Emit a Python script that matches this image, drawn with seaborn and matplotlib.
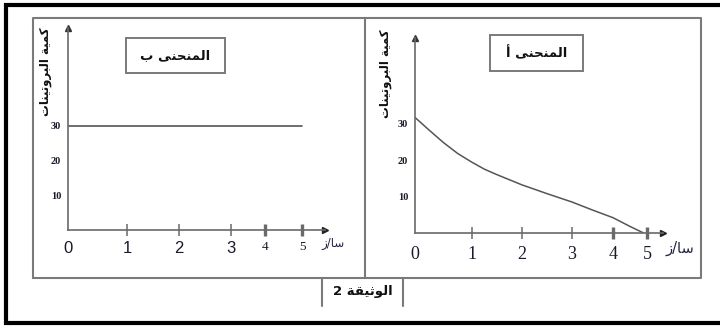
import numpy as np
import pandas as pd
import seaborn as sns
import matplotlib
matplotlib.use('Agg')
import matplotlib.pyplot as plt
from matplotlib.lines import Line2D
from matplotlib.patches import Rectangle


# =====================
# data
# =====================
time_b = [0, 5]                      # curve B: constant protein amount
protein_b = [30, 30]

# curve A: decreasing protein amount
time_a = [0, 0.25, 0.5, 0.75, 1, 1.25, 1.5, 2, 2.5, 3, 3.5, 4, 4.5, 4.9]
protein_a = [31.7, 28.2, 24.8, 21.8, 19.4, 17.5, 16.0, 13.2, 10.8, 8.5, 6.3, 4.2, 1.8, 0.0]

x_ticks = [0, 1, 2, 3, 4, 5]
y_ticks = [10, 20, 30]

title_b = 'المنحنى ب'
title_a = 'المنحنى أ'
y_label = 'كمية البروتينات'
x_label = 'سا/ز'
caption = 'الوثيقة 2'


# =====================
# arabic shaping (matplotlib has no bidi / joining)
# =====================
FORMS = {
    'ا': ('\uFE8D', '\uFE8E', None, None),
    'أ': ('\uFE83', '\uFE84', None, None),
    'ب': ('\uFE8F', '\uFE90', '\uFE91', '\uFE92'),
    'ة': ('\uFE93', '\uFE94', None, None),
    'ت': ('\uFE95', '\uFE96', '\uFE97', '\uFE98'),
    'ث': ('\uFE99', '\uFE9A', '\uFE9B', '\uFE9C'),
    'ح': ('\uFEA1', '\uFEA2', '\uFEA3', '\uFEA4'),
    'ر': ('\uFEAD', '\uFEAE', None, None),
    'ز': ('\uFEAF', '\uFEB0', None, None),
    'س': ('\uFEB1', '\uFEB2', '\uFEB3', '\uFEB4'),
    'ق': ('\uFED5', '\uFED6', '\uFED7', '\uFED8'),
    'ك': ('\uFED9', '\uFEDA', '\uFEDB', '\uFEDC'),
    'ل': ('\uFEDD', '\uFEDE', '\uFEDF', '\uFEE0'),
    'م': ('\uFEE1', '\uFEE2', '\uFEE3', '\uFEE4'),
    'ن': ('\uFEE5', '\uFEE6', '\uFEE7', '\uFEE8'),
    'و': ('\uFEED', '\uFEEE', None, None),
    'ى': ('\uFEEF', '\uFEF0', None, None),
    'ي': ('\uFEF1', '\uFEF2', '\uFEF3', '\uFEF4'),
}


def rtl(text):
    out = []
    for i, c in enumerate(text):
        if c not in FORMS:
            out.append(c)
            continue
        prev_joins = i > 0 and text[i - 1] in FORMS and FORMS[text[i - 1]][2] is not None
        next_joins = (i < len(text) - 1 and text[i + 1] in FORMS
                      and FORMS[c][2] is not None)
        if prev_joins and next_joins:
            out.append(FORMS[c][3])
        elif next_joins:
            out.append(FORMS[c][2])
        elif prev_joins:
            out.append(FORMS[c][1])
        else:
            out.append(FORMS[c][0])
    return ''.join(out[::-1])


# =====================
# layout helpers (pixels of a 720x326 canvas)
# =====================
W, H = 720, 326


def fx(x):
    return x / W


def fy(y):
    return 1 - y / H


def px_axes(fig, left, bottom, right, top):
    return fig.add_axes([fx(left), fy(bottom), fx(right) - fx(left), fy(top) - fy(bottom)])


def hand_scale(t_marks, p_marks):
    # the hand drawn time axis is not evenly spaced
    def fwd(t):
        return np.interp(t, t_marks, p_marks)

    def inv(p):
        return np.interp(p, p_marks, t_marks)
    return fwd, inv


sns.set_style('white')
plt.rcParams['font.family'] = ['DejaVu Sans']

fig = plt.figure(figsize=(7.2, 3.26), dpi=100)
axis_col = '#6a6a6a'
frame_col = '#7a7a7a'
arabic = dict(family='DejaVu Sans', fontweight='bold', color='#111111')


def style_axes(ax, xmax, ymax, label_font, label_size, pad):
    ax.set_xlim(0, xmax)
    ax.set_ylim(0, ymax)
    for side in ['top', 'right']:
        ax.spines[side].set_visible(False)
    for side in ['left', 'bottom']:
        ax.spines[side].set_color(axis_col)
        ax.spines[side].set_linewidth(1.2)
    ax.patch.set_alpha(0)
    ax.set_xticks(x_ticks)
    ax.set_xticklabels([str(t) for t in x_ticks], fontsize=label_size,
                       family=label_font, color='#1a1a2a')
    ax.set_yticks(y_ticks)
    ax.set_yticklabels([str(t) for t in y_ticks], fontsize=7.5,
                       family='Liberation Serif', fontweight='bold', color='#1a1a2a')
    ax.tick_params(axis='x', bottom=True, direction='inout', length=8, width=1.1,
                   color=axis_col, pad=pad)
    ax.tick_params(axis='y', left=False, length=0, pad=5)
    ax.xaxis.get_major_ticks()[0].tick1line.set_visible(False)
    ax.set_xlabel('')
    ax.set_ylabel('')
    ax.plot(1, 0, '>', color='#222222', markersize=4,
            transform=ax.get_yaxis_transform(), clip_on=False)
    ax.plot(0, 1, '^', color='#333333', markersize=4,
            transform=ax.get_xaxis_transform(), clip_on=False)
    # hand-inked ticks at 4 and 5
    for tk in ax.xaxis.get_major_ticks()[4:]:
        tk.tick1line.set_color('#111111')
        tk.tick1line.set_markeredgewidth(2.4)


# ---------------- left panel: curve B ----------------
ax_b = px_axes(fig, 68, 230, 325, 28)
ax_b.set_xscale('function', functions=hand_scale([0, 1, 2, 3, 4, 5, 5.6],
                                                 [0, 59, 111, 163, 197, 234, 257]))
sns.lineplot(x=time_b, y=protein_b, ax=ax_b, color='#555555', linewidth=1.2)
style_axes(ax_b, 5.6, 58, 'Liberation Sans', 12, 4)
for lab in ax_b.get_xticklabels()[4:]:
    lab.set_family('Liberation Serif')
    lab.set_fontsize(9.5)

# ---------------- right panel: curve A ----------------
ax_a = px_axes(fig, 415, 233, 663, 38)
ax_a.set_xscale('function', functions=hand_scale([0, 1, 2, 3, 4, 5, 5.5],
                                                 [0, 57, 107, 157, 198, 232, 248]))
sns.lineplot(x=time_a, y=protein_a, ax=ax_a, color='#555555', linewidth=1.1)
style_axes(ax_a, 5.5, 53.5, 'Liberation Serif', 13, 5.5)

# axis titles
fig.text(fx(46), fy(72), rtl(y_label), rotation=90, ha='center', va='center',
         fontsize=8.5, **arabic)
fig.text(fx(386), fy(74), rtl(y_label), rotation=90, ha='center', va='center',
         fontsize=8.5, **arabic)
fig.text(fx(333), fy(243), rtl(x_label), ha='center', va='center', fontsize=8.5,
         family='DejaVu Sans', color='#222244')
fig.text(fx(680), fy(248), rtl(x_label), ha='center', va='center', fontsize=10.5,
         family='DejaVu Sans', color='#222244')

# curve name boxes
for (x0, y0, x1, y1), name in [((126, 38, 225, 73), title_b), ((490, 35, 583, 71), title_a)]:
    fig.add_artist(Rectangle((fx(x0), fy(y1)), fx(x1) - fx(x0), fy(y0) - fy(y1),
                             transform=fig.transFigure, fill=False,
                             edgecolor=frame_col, linewidth=1.4))
    fig.text(fx((x0 + x1) / 2), fy((y0 + y1) / 2), rtl(name), ha='center', va='center',
             fontsize=9.5, **arabic)

# panel frames
frames = [
    [(33, 278), (33, 18), (701, 18), (701, 278), (33, 278)],
    [(365, 18), (365, 278)],
    [(322, 278), (322, 306)],
    [(403, 278), (403, 306)],
]
for pts in frames:
    xs, ys = zip(*pts)
    fig.add_artist(Line2D([fx(x) for x in xs], [fy(y) for y in ys],
                          transform=fig.transFigure, color=frame_col, linewidth=1.5))

# caption
fig.text(fx(363), fy(292), rtl(caption), ha='center', va='center', fontsize=9.5, **arabic)

# outer black border (open on the right)
fig.add_artist(Line2D([fx(720), fx(6), fx(6), fx(720)], [fy(5), fy(5), fy(323), fy(323)],
                      transform=fig.transFigure, color='black', linewidth=3,
                      solid_joinstyle='miter'))

fig.savefig('out.png', dpi=100)
